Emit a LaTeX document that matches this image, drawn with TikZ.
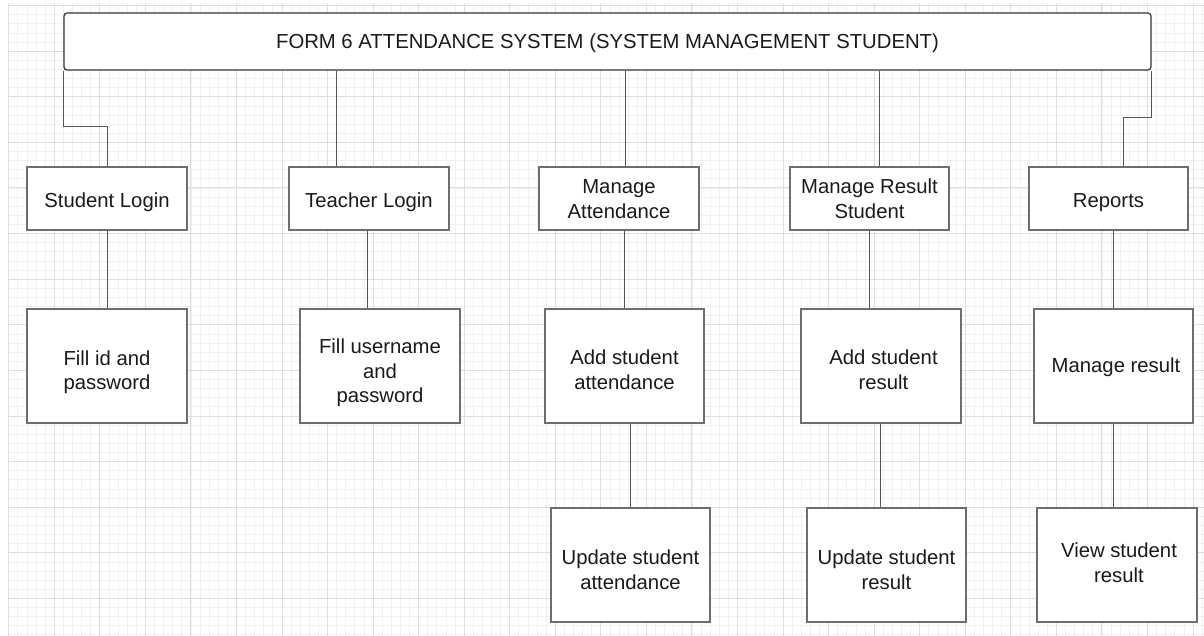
\documentclass[tikz,border=0pt]{standalone}
\usepackage{fontspec}
\setmainfont{Liberation Sans}
\definecolor{gridmajor}{HTML}{DEDEDE}
\definecolor{gridminor}{HTML}{F1F1F1}
\definecolor{boxline}{HTML}{6E6E6E}
\definecolor{titleline}{HTML}{333333}
\definecolor{connline}{HTML}{555555}
\definecolor{txt}{HTML}{1A1A1A}
% text block pushed down by #1 pt inside its box
\newcommand{\tdown}[2]{\raisebox{0pt}[\dimexpr\height+#1pt+#1pt\relax]{\begin{tabular}{@{}c@{}}#2\end{tabular}}}
\tikzset{
  minorgrid/.style={draw=gridminor, line width=0.8pt},
  majorgrid/.style={draw=gridmajor, line width=1pt},
  titlebox/.style={draw=titleline, line width=1.2pt, rounded corners=3pt, fill=white,
    minimum width=1087pt, minimum height=57pt, inner sep=0pt,
    font=\fontsize{20.3}{24}\selectfont, text=txt},
  smallbox/.style={draw=boxline, line width=1.5pt, fill=white,
    minimum width=160pt, minimum height=63pt, inner sep=0pt,
    font=\fontsize{20.3}{24.5}\selectfont, text=txt},
  bigbox/.style={smallbox, minimum height=114pt},
  conn/.style={draw=connline, line width=1pt},
}
\begin{document}
\begin{tikzpicture}[x=1pt, y=-1pt]
\useasboundingbox (0,0) rectangle (1204,636);
\fill[white] (0,0) rectangle (1204,636);
% grid
\begin{scope}
\clip (8,3) rectangle (1204,636);
\foreach \i in {0,...,131} {
  \pgfmathsetmacro{\xx}{8.7+\i*9.11}
  \draw[minorgrid] (\xx,3) -- (\xx,636);
}
\foreach \i in {0,...,69} {
  \pgfmathsetmacro{\yy}{5.6+\i*9.12}
  \draw[minorgrid] (8,\yy) -- (1204,\yy);
}
\foreach \i in {0,...,26} {
  \pgfmathsetmacro{\xx}{8.7+\i*45.55}
  \draw[majorgrid] (\xx,3) -- (\xx,636);
}
\foreach \i in {0,...,13} {
  \pgfmathsetmacro{\yy}{5.6+\i*45.6}
  \draw[majorgrid] (8,\yy) -- (1204,\yy);
}
\end{scope}

% title
\node[titlebox] (title) at (607.5,41.5) {\tdown{2}{FORM 6 ATTENDANCE SYSTEM (SYSTEM MANAGEMENT STUDENT)}};

% row 1
\node[smallbox] (sl) at (107,198.5) {\tdown{4}{Student Login}};
\node[smallbox] (tl) at (369,198.5) {\tdown{4}{Teacher Login}};
\node[smallbox] (ma) at (619,198.5) {\tdown{2.5}{Manage\\Attendance}};
\node[smallbox, minimum width=159pt] (mr) at (869.5,198.5) {\tdown{2.5}{Manage Result\\Student}};
\node[smallbox, minimum width=159pt] (rp) at (1108.5,198.5) {\tdown{4}{Reports}};

% row 2
\node[bigbox] (fi) at (107,366) {\tdown{6.5}{Fill id and\\password}};
\node[bigbox] (fu) at (380,366) {\tdown{7.5}{Fill username\\and\\password}};
\node[bigbox, minimum width=159pt] (as) at (624.5,366) {\tdown{6}{Add student\\attendance}};
\node[bigbox] (ar) at (881,366) {\tdown{6}{\hspace*{5pt}Add student\\\hspace*{5pt}result}};
\node[bigbox, minimum width=159pt] (mg) at (1113.5,366) {\tdown{2}{\hspace*{5pt}Manage result}};

% row 3
\node[bigbox, minimum width=159pt] (ua) at (630.5,565) {\tdown{7}{Update student\\attendance}};
\node[bigbox, minimum width=159pt] (ur) at (886.5,565) {\tdown{7}{Update student\\result}};
\node[bigbox] (vs) at (1117,565) {\tdown{0}{\hspace*{4pt}View student\\\hspace*{4pt}result}};

% connectors from title
\draw[conn] (title.south west) |- ([yshift=40]sl.north) -- (sl.north);
\draw[conn] ([xshift=-33]tl.north |- title.south) -- ([xshift=-33]tl.north);
\draw[conn] ([xshift=6]ma.north |- title.south) -- ([xshift=6]ma.north);
\draw[conn] ([xshift=9.5]mr.north |- title.south) -- ([xshift=9.5]mr.north);
\draw[conn] (title.south east) |- ([xshift=14.5,yshift=49]rp.north) -- ([xshift=14.5]rp.north);

% row connectors
\draw[conn] (sl.south) -- (sl.south |- fi.north);
\draw[conn] ([xshift=-2]tl.south) -- ([xshift=-2]tl.south |- fu.north);
\draw[conn] (as.north |- ma.south) -- (as.north);
\draw[conn] (ua.north |- as.south) -- (ua.north);
\draw[conn] (mr.south) -- (mr.south |- ar.north);
\draw[conn] ([xshift=-0.5]ar.south) -- ([xshift=-0.5]ar.south |- ur.north);
\draw[conn] (mg.north |- rp.south) -- (mg.north);
\draw[conn] (mg.south) -- (mg.south |- vs.north);
\end{tikzpicture}
\end{document}
